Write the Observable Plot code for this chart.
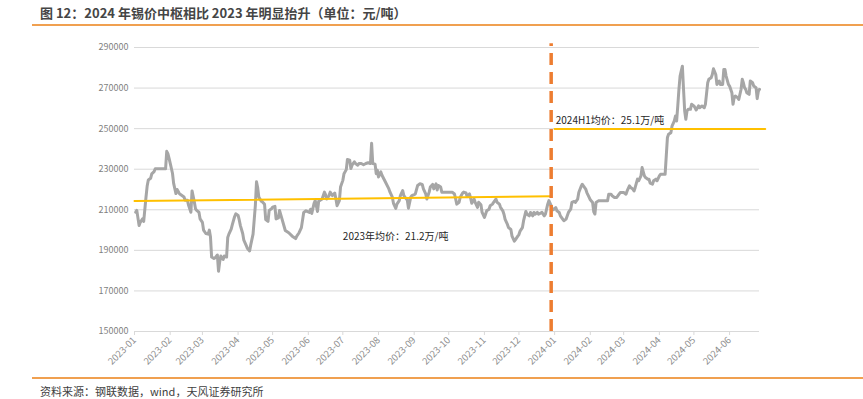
<!DOCTYPE html>
<html><head><meta charset="utf-8">
<script src="https://cdn.jsdelivr.net/npm/d3@7"></script>
<script src="https://cdn.jsdelivr.net/npm/@observablehq/plot@0.6"></script>
<style>
body{margin:0;background:#fff;}
#wrap{position:relative;width:863px;height:399px;overflow:hidden;font-family:"Noto Sans CJK SC","Noto Sans",sans-serif;background:#fff;}
#title{position:absolute;left:40px;top:4px;font-size:13px;line-height:18px;font-weight:bold;color:#454545;white-space:nowrap;}
.rule{position:absolute;left:32px;width:831px;height:2px;background:#F0A050;}
#chart{position:absolute;left:0;top:30px;}
#source{position:absolute;left:40px;top:384px;font-size:11px;line-height:15px;color:#404040;white-space:nowrap;}
</style></head>
<body><div id="wrap">
<div id="title">图 12：2024 年锡价中枢相比 2023 年明显抬升（单位：元/吨）</div>
<div class="rule" style="top:24px"></div>
<div id="chart"></div>
<div class="rule" style="top:377px"></div>
<div id="source">资料来源：钢联数据，wind，天风证券研究所</div>
</div>
<script>
const dates = [
"2023-01-02","2023-01-03","2023-01-05","2023-01-06","2023-01-08","2023-01-09","2023-01-11","2023-01-12","2023-01-13","2023-01-15","2023-01-16","2023-01-18","2023-01-19","2023-01-24","2023-01-28","2023-01-29","2023-01-30","2023-01-31",
"2023-02-01","2023-02-03","2023-02-04","2023-02-06","2023-02-07","2023-02-09","2023-02-10","2023-02-13","2023-02-14","2023-02-16","2023-02-17","2023-02-19","2023-02-20","2023-02-22","2023-02-23","2023-02-24","2023-02-26","2023-02-27",
"2023-03-01","2023-03-02","2023-03-04","2023-03-06","2023-03-07","2023-03-08","2023-03-09","2023-03-11","2023-03-12","2023-03-14","2023-03-15","2023-03-16","2023-03-17","2023-03-19","2023-03-20","2023-03-22","2023-03-23","2023-03-24","2023-03-26","2023-03-27","2023-03-29","2023-03-30",
"2023-04-01","2023-04-02","2023-04-03","2023-04-05","2023-04-06","2023-04-08","2023-04-09","2023-04-11","2023-04-12","2023-04-14","2023-04-15","2023-04-16","2023-04-17","2023-04-18","2023-04-19","2023-04-21","2023-04-22","2023-04-24","2023-04-25","2023-04-27","2023-04-28","2023-04-30",
"2023-05-01","2023-05-03","2023-05-04","2023-05-06","2023-05-07","2023-05-09","2023-05-12","2023-05-15","2023-05-18","2023-05-21","2023-05-22","2023-05-24","2023-05-26","2023-05-28","2023-05-30",
"2023-06-02","2023-06-03","2023-06-04","2023-06-06","2023-06-07","2023-06-09","2023-06-10","2023-06-13","2023-06-15","2023-06-16","2023-06-17","2023-06-19","2023-06-20","2023-06-22","2023-06-24","2023-06-25","2023-06-26","2023-06-28","2023-06-29",
"2023-07-01","2023-07-02","2023-07-04","2023-07-05","2023-07-07","2023-07-08","2023-07-09","2023-07-11","2023-07-12","2023-07-14","2023-07-15","2023-07-17","2023-07-19","2023-07-21","2023-07-23","2023-07-25","2023-07-26","2023-07-27","2023-07-29","2023-07-30","2023-07-31",
"2023-08-01","2023-08-03","2023-08-04","2023-08-07","2023-08-10","2023-08-11","2023-08-13","2023-08-14","2023-08-16","2023-08-17","2023-08-19","2023-08-20","2023-08-22","2023-08-23","2023-08-24","2023-08-26","2023-08-27","2023-08-29","2023-08-30",
"2023-09-01","2023-09-02","2023-09-04","2023-09-06","2023-09-08","2023-09-09","2023-09-11","2023-09-12","2023-09-14","2023-09-15","2023-09-17","2023-09-18","2023-09-20","2023-09-21","2023-09-22","2023-09-24","2023-09-25","2023-09-30",
"2023-10-04","2023-10-06","2023-10-07","2023-10-08","2023-10-10","2023-10-11","2023-10-13","2023-10-14","2023-10-16","2023-10-17","2023-10-19","2023-10-20","2023-10-21","2023-10-23","2023-10-24","2023-10-26","2023-10-27","2023-10-29","2023-10-30",
"2023-11-01","2023-11-02","2023-11-03","2023-11-05","2023-11-06","2023-11-08","2023-11-09","2023-11-11","2023-11-12","2023-11-14","2023-11-15","2023-11-17","2023-11-18","2023-11-19","2023-11-21","2023-11-22","2023-11-24","2023-11-25","2023-11-27","2023-11-28","2023-11-30",
"2023-12-01","2023-12-02","2023-12-04","2023-12-05","2023-12-07","2023-12-08","2023-12-10","2023-12-11","2023-12-13","2023-12-14","2023-12-15","2023-12-17","2023-12-18","2023-12-21","2023-12-23","2023-12-24","2023-12-26","2023-12-27","2023-12-29","2023-12-30","2023-12-31",
"2024-01-02","2024-01-03","2024-01-05","2024-01-06","2024-01-08","2024-01-09","2024-01-11","2024-01-12","2024-01-13","2024-01-15","2024-01-16","2024-01-18","2024-01-19","2024-01-21","2024-01-22","2024-01-24","2024-01-25","2024-01-26","2024-01-28","2024-01-29","2024-01-31",
"2024-02-01","2024-02-03","2024-02-04","2024-02-05","2024-02-06","2024-02-08","2024-02-11","2024-02-16","2024-02-17","2024-02-19","2024-02-20","2024-02-22","2024-02-24","2024-02-26","2024-02-27",
"2024-03-01","2024-03-03","2024-03-04","2024-03-06","2024-03-07","2024-03-09","2024-03-10","2024-03-11","2024-03-13","2024-03-14","2024-03-16","2024-03-17","2024-03-19","2024-03-20","2024-03-22","2024-03-23","2024-03-24","2024-03-26","2024-03-27","2024-03-29","2024-03-30",
"2024-04-01","2024-04-02","2024-04-05","2024-04-06","2024-04-07","2024-04-08","2024-04-09","2024-04-11","2024-04-12","2024-04-14","2024-04-15","2024-04-16","2024-04-17","2024-04-18","2024-04-19","2024-04-21","2024-04-22","2024-04-23","2024-04-24","2024-04-25","2024-04-26","2024-04-28","2024-04-29",
"2024-05-01","2024-05-02","2024-05-03","2024-05-05","2024-05-06","2024-05-08","2024-05-10","2024-05-11","2024-05-13","2024-05-14","2024-05-16","2024-05-17","2024-05-18","2024-05-20","2024-05-21","2024-05-23","2024-05-24","2024-05-26","2024-05-27","2024-05-28","2024-05-29","2024-05-31",
"2024-06-01","2024-06-03","2024-06-04","2024-06-05","2024-06-06","2024-06-08","2024-06-09","2024-06-11","2024-06-12","2024-06-13","2024-06-14","2024-06-15","2024-06-16","2024-06-18","2024-06-19","2024-06-21","2024-06-22","2024-06-24","2024-06-25","2024-06-26","2024-06-27"
];
const prices = [
208800,209700,202200,203800,205500,204300,216300,221700,224700,225500,227700,228800,230200,230200,230200,238800,237700,235500,
233000,228000,223000,218000,220000,218000,217500,216300,214700,214700,212200,208800,219300,213800,210500,209700,208800,205500,
203800,200000,198300,198000,200000,196700,186700,186000,186300,187700,179700,184300,187200,185500,187200,186700,196300,198000,200500,202700,206700,208000,
207200,205000,202200,198300,195000,192500,191000,189700,192700,198000,205000,212200,223800,221000,216300,214300,214000,212700,205200,204300,209700,210500,
211300,211700,205500,206000,209700,205800,199800,198700,197000,195800,197000,198700,201200,208700,209500,
208700,210300,208200,213200,214500,209200,214200,215300,218700,217500,215300,217000,218700,217000,218200,215300,212000,214500,221200,
224500,227800,229800,234800,234500,230300,232000,233700,232800,232000,232800,232800,232200,232800,233200,232800,242800,232800,232500,227800,229500,
226200,228700,227000,223700,220300,218700,216200,213200,210700,212800,214500,217000,219500,217000,216200,214800,210800,216200,217000,
217500,217800,222000,222800,222500,220300,217800,215300,218700,221200,222500,220300,222800,219800,222000,221200,218700,218700,
218700,217800,215300,212800,213700,216200,218200,218700,218300,216500,217800,215800,213200,215300,213700,211200,213700,212500,208700,
206200,207800,209500,210300,212000,212800,213700,215300,213700,212800,211200,209500,207800,205300,202800,201200,200300,197000,194500,195300,197000,
197800,199500,201200,204500,209200,207800,207000,208700,207000,208700,207800,208700,207800,208700,207000,207800,212800,214500,212000,210300,210000,
211100,209500,208700,207000,205400,204600,205400,207000,208700,210300,213600,214100,213600,215200,218500,221500,222600,221800,220200,218500,216100,
214900,213600,209000,207900,213600,214400,214400,214400,217700,217700,216900,216100,216100,217700,218500,
218500,217700,219300,221800,221000,220200,219300,221000,225100,224300,226700,230800,226700,225900,225100,225100,223100,222600,224300,225100,224300,
226700,227500,227500,227500,236600,245600,247200,248000,251300,253800,256200,253800,261200,269400,275900,280800,269400,258700,254600,258700,259500,259500,262000,
261200,260300,259200,261200,260300,261200,260300,262000,272600,274300,275100,276700,279500,276700,271800,273500,271800,271800,279200,279200,275900,271800,
271000,267700,262000,265300,266100,265300,264400,269400,274300,272600,270200,269400,267700,266900,273500,272600,271000,270200,264800,268400,269400
];
const avg2023Dates = ["2023-01-01", "2023-12-29"];
const avg2023Values = [214300, 216700];
const avg2024Dates = ["2024-01-01", "2024-07-02"];
const avg2024Values = [249800, 249800];
const dividerDate = "2023-12-29";
const dividerTop = 291800;
const yTicks = [150000, 170000, 190000, 210000, 230000, 250000, 270000, 290000];
const xTickMonths = ["2023-01","2023-02","2023-03","2023-04","2023-05","2023-06","2023-07","2023-08","2023-09","2023-10","2023-11","2023-12","2024-01","2024-02","2024-03","2024-04","2024-05","2024-06"];
const labelTexts = ["2023年均价：21.2万/吨", "2024H1均价：25.1万/吨"];
const labelDates = ["2023-07-01", "2024-01-02"];
const labelValues = [196500, 253800];

const series = dates.map((d, i) => ({date: new Date(d), price: prices[i]}));
const avg23 = avg2023Dates.map((d, i) => ({date: new Date(d), value: avg2023Values[i]}));
const avg24 = avg2024Dates.map((d, i) => ({date: new Date(d), value: avg2024Values[i]}));
const xTicks = xTickMonths.map(m => new Date(m + "-01"));
const labels = labelTexts.map((t, i) => ({text: t, date: new Date(labelDates[i]), value: labelValues[i]}));

const chart = Plot.plot({
  width: 863, height: 345,
  marginTop: 17, marginBottom: 44, marginLeft: 134, marginRight: 104,
  style: {fontFamily: '"Noto Sans CJK SC","Noto Sans",sans-serif', fontSize: "9px", background: "#fff", color: "#7f7f7f"},
  x: {type: "utc", domain: [new Date("2023-01-01"), new Date("2024-06-27")]},
  y: {domain: [150000, 290000]},
  marks: [
    Plot.gridY(yTicks, {stroke: "#d9d9d9", strokeOpacity: 1}),
    Plot.axisY(yTicks, {tickSize: 0, tickPadding: 6, tickFormat: d3.format("d"), fill: "#7f7f7f", label: null}),
    Plot.axisX(xTicks, {tickSize: 4, tickPadding: 3, tickRotate: -45, tickFormat: d3.utcFormat("%Y-%m"), stroke: "#d9d9d9", fill: "#8c8c8c", fontSize: 9.5, label: null}),
    Plot.line(series, {x: "date", y: "price", stroke: "#A6A6A6", strokeWidth: 3}),
    Plot.line(avg23, {x: "date", y: "value", stroke: "#FFC000", strokeWidth: 2}),
    Plot.line(avg24, {x: "date", y: "value", stroke: "#FFC000", strokeWidth: 2}),
    Plot.ruleX([new Date(dividerDate)], {y1: 150000, y2: dividerTop, stroke: "#ED7D31", strokeWidth: 3.5, strokeDasharray: "12,7"}),
    Plot.text(labels, {x: "date", y: "value", text: "text", textAnchor: "start", fill: "#262626", fontSize: 10})
  ]
});
document.getElementById("chart").appendChild(chart);
</script>
</body></html>
